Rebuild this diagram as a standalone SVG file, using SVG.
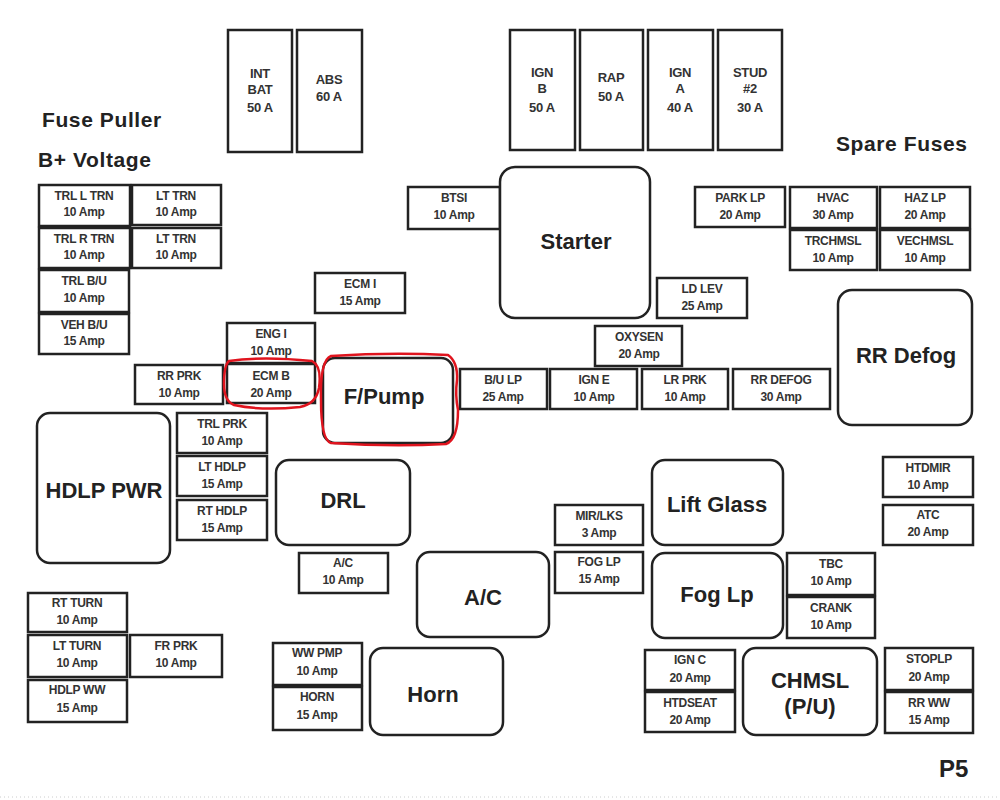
<svg xmlns="http://www.w3.org/2000/svg" width="1000" height="800" viewBox="0 0 1000 800">
<style>
  .box { fill: #ffffff; stroke: #222; stroke-width: 2.5; }
  .relay { fill: #ffffff; stroke: #222; stroke-width: 2.5; }
  .s { font-family: "Liberation Sans", Arial, sans-serif; font-size: 12px; font-weight: bold; fill: #333; text-anchor: middle; letter-spacing: -0.3px; }
  .m { font-family: "Liberation Sans", Arial, sans-serif; font-size: 13px; font-weight: bold; fill: #333; text-anchor: middle; letter-spacing: -0.3px; }
  .big { font-family: "Liberation Sans", Arial, sans-serif; font-size: 22px; font-weight: bold; fill: #222; text-anchor: middle; }
  .lab { font-family: "Liberation Sans", Arial, sans-serif; font-size: 21px; font-weight: bold; fill: #222; letter-spacing: 0.6px; }
  .red { fill: none; stroke: #e0141e; stroke-width: 2.5; stroke-linejoin: round; }
</style>
<rect x="0" y="0" width="1000" height="800" fill="#ffffff"/>

<!-- labels -->
<text class="lab" x="42" y="127">Fuse Puller</text>
<text class="lab" x="38" y="167">B+ Voltage</text>
<text class="lab" x="836" y="151">Spare Fuses</text>
<text class="lab" x="939" y="777" style="font-size:24px;letter-spacing:0">P5</text>

<!-- top maxi fuses -->
<g id="int-bat"><rect class="box" x="228" y="30" width="64" height="122"/><text class="m" x="260" y="78">INT</text><text class="m" x="260" y="94">BAT</text><text class="m" x="260" y="112">50 A</text></g>
<g id="abs"><rect class="box" x="297" y="30" width="65" height="122"/><text class="m" x="329" y="84">ABS</text><text class="m" x="329" y="101">60 A</text></g>
<g id="ign-b"><rect class="box" x="510" y="30" width="65" height="120"/><text class="m" x="542" y="77">IGN</text><text class="m" x="542" y="93">B</text><text class="m" x="542" y="112">50 A</text></g>
<g id="rap"><rect class="box" x="580" y="30" width="63" height="120"/><text class="m" x="611" y="82">RAP</text><text class="m" x="611" y="101">50 A</text></g>
<g id="ign-a"><rect class="box" x="648" y="30" width="65" height="120"/><text class="m" x="680" y="77">IGN</text><text class="m" x="680" y="93">A</text><text class="m" x="680" y="112">40 A</text></g>
<g id="stud2"><rect class="box" x="718" y="30" width="64" height="120"/><text class="m" x="750" y="77">STUD</text><text class="m" x="750" y="93">#2</text><text class="m" x="750" y="112">30 A</text></g>

<!-- left column -->
<g id="trl-l-trn"><rect class="box" x="39" y="185" width="91" height="41"/><text class="s" x="84" y="200">TRL L TRN</text><text class="s" x="84" y="216">10 Amp</text></g>
<g id="lt-trn-1"><rect class="box" x="132" y="185" width="89" height="40"/><text class="s" x="176" y="200">LT TRN</text><text class="s" x="176" y="216">10 Amp</text></g>
<g id="trl-r-trn"><rect class="box" x="39" y="228" width="91" height="40"/><text class="s" x="84" y="243">TRL R TRN</text><text class="s" x="84" y="259">10 Amp</text></g>
<g id="lt-trn-2"><rect class="box" x="132" y="228" width="89" height="40"/><text class="s" x="176" y="243">LT TRN</text><text class="s" x="176" y="259">10 Amp</text></g>
<g id="trl-bu"><rect class="box" x="39" y="270" width="90" height="42"/><text class="s" x="84" y="285">TRL B/U</text><text class="s" x="84" y="302">10 Amp</text></g>
<g id="veh-bu"><rect class="box" x="39" y="314" width="90" height="40"/><text class="s" x="84" y="329">VEH B/U</text><text class="s" x="84" y="345">15 Amp</text></g>

<!-- center upper -->
<g id="btsi"><rect class="box" x="408" y="187" width="92" height="42"/><text class="s" x="454" y="202">BTSI</text><text class="s" x="454" y="219">10 Amp</text></g>
<g id="starter"><rect class="relay" x="500" y="167" width="150" height="151" rx="15"/><text class="big" x="576" y="249">Starter</text></g>
<g id="ecm-i"><rect class="box" x="315" y="273" width="90" height="40"/><text class="s" x="360" y="288">ECM I</text><text class="s" x="360" y="305">15 Amp</text></g>
<g id="eng-i"><rect class="box" x="227" y="323" width="88" height="40"/><text class="s" x="271" y="338">ENG I</text><text class="s" x="271" y="355">10 Amp</text></g>
<g id="rr-prk"><rect class="box" x="135" y="365" width="88" height="39"/><text class="s" x="179" y="380">RR PRK</text><text class="s" x="179" y="397">10 Amp</text></g>
<g id="ecm-b"><rect class="box" x="227" y="364" width="88" height="39"/><text class="s" x="271" y="380">ECM B</text><text class="s" x="271" y="397">20 Amp</text></g>
<g id="f-pump"><rect class="relay" x="323" y="358" width="130" height="85" rx="12"/><text class="big" x="384" y="404">F/Pump</text></g>
<g id="ld-lev"><rect class="box" x="657" y="278" width="90" height="40"/><text class="s" x="702" y="293">LD LEV</text><text class="s" x="702" y="310">25 Amp</text></g>
<g id="oxysen"><rect class="box" x="595" y="326" width="87" height="40"/><text class="s" x="639" y="341">OXYSEN</text><text class="s" x="639" y="358">20 Amp</text></g>
<g id="bu-lp"><rect class="box" x="460" y="369" width="87" height="40"/><text class="s" x="503" y="384">B/U LP</text><text class="s" x="503" y="401">25 Amp</text></g>
<g id="ign-e"><rect class="box" x="550" y="369" width="87" height="40"/><text class="s" x="594" y="384">IGN E</text><text class="s" x="594" y="401">10 Amp</text></g>
<g id="lr-prk"><rect class="box" x="642" y="369" width="86" height="40"/><text class="s" x="685" y="384">LR PRK</text><text class="s" x="685" y="401">10 Amp</text></g>
<g id="rr-defog-f"><rect class="box" x="733" y="369" width="97" height="40"/><text class="s" x="781" y="384">RR DEFOG</text><text class="s" x="781" y="401">30 Amp</text></g>

<!-- right upper -->
<g id="park-lp"><rect class="box" x="695" y="187" width="90" height="40"/><text class="s" x="740" y="202">PARK LP</text><text class="s" x="740" y="219">20 Amp</text></g>
<g id="hvac"><rect class="box" x="790" y="187" width="87" height="41"/><text class="s" x="833" y="202">HVAC</text><text class="s" x="833" y="219">30 Amp</text></g>
<g id="haz-lp"><rect class="box" x="880" y="187" width="90" height="41"/><text class="s" x="925" y="202">HAZ LP</text><text class="s" x="925" y="219">20 Amp</text></g>
<g id="trchmsl"><rect class="box" x="790" y="230" width="87" height="40"/><text class="s" x="833" y="245">TRCHMSL</text><text class="s" x="833" y="262">10 Amp</text></g>
<g id="vechmsl"><rect class="box" x="880" y="230" width="90" height="40"/><text class="s" x="925" y="245">VECHMSL</text><text class="s" x="925" y="262">10 Amp</text></g>
<g id="rr-defog"><rect class="relay" x="838" y="290" width="134" height="135" rx="14"/><text class="big" x="906" y="363">RR Defog</text></g>

<!-- middle left -->
<g id="hdlp-pwr"><rect class="relay" x="37" y="413" width="133" height="150" rx="13"/><text class="big" x="104" y="498">HDLP PWR</text></g>
<g id="trl-prk"><rect class="box" x="177" y="413" width="90" height="40"/><text class="s" x="222" y="428">TRL PRK</text><text class="s" x="222" y="445">10 Amp</text></g>
<g id="lt-hdlp"><rect class="box" x="177" y="456" width="90" height="40"/><text class="s" x="222" y="471">LT HDLP</text><text class="s" x="222" y="488">15 Amp</text></g>
<g id="rt-hdlp"><rect class="box" x="177" y="500" width="90" height="40"/><text class="s" x="222" y="515">RT HDLP</text><text class="s" x="222" y="532">15 Amp</text></g>
<g id="drl"><rect class="relay" x="276" y="460" width="134" height="85" rx="13"/><text class="big" x="343" y="508">DRL</text></g>
<g id="ac-fuse"><rect class="box" x="299" y="553" width="89" height="40"/><text class="s" x="343" y="567">A/C</text><text class="s" x="343" y="584">10 Amp</text></g>

<!-- middle right -->
<g id="lift-glass"><rect class="relay" x="652" y="460" width="131" height="85" rx="13"/><text class="big" x="717" y="512">Lift Glass</text></g>
<g id="mir-lks"><rect class="box" x="555" y="505" width="88" height="40"/><text class="s" x="599" y="520">MIR/LKS</text><text class="s" x="599" y="537">3 Amp</text></g>
<g id="fog-lp-f"><rect class="box" x="555" y="552" width="88" height="41"/><text class="s" x="599" y="566">FOG LP</text><text class="s" x="599" y="583">15 Amp</text></g>
<g id="fog-lp"><rect class="relay" x="652" y="553" width="131" height="85" rx="13"/><text class="big" x="717" y="602">Fog Lp</text></g>
<g id="tbc"><rect class="box" x="787" y="553" width="88" height="42"/><text class="s" x="831" y="568">TBC</text><text class="s" x="831" y="585">10 Amp</text></g>
<g id="crank"><rect class="box" x="787" y="597" width="88" height="41"/><text class="s" x="831" y="612">CRANK</text><text class="s" x="831" y="629">10 Amp</text></g>
<g id="htdmir"><rect class="box" x="883" y="457" width="90" height="40"/><text class="s" x="928" y="472">HTDMIR</text><text class="s" x="928" y="489">10 Amp</text></g>
<g id="atc"><rect class="box" x="883" y="505" width="90" height="40"/><text class="s" x="928" y="519">ATC</text><text class="s" x="928" y="536">20 Amp</text></g>
<g id="ac-relay"><rect class="relay" x="417" y="552" width="132" height="85" rx="13"/><text class="big" x="483" y="605">A/C</text></g>

<!-- bottom -->
<g id="rt-turn"><rect class="box" x="28" y="593" width="99" height="39"/><text class="s" x="77" y="607">RT TURN</text><text class="s" x="77" y="624">10 Amp</text></g>
<g id="lt-turn"><rect class="box" x="28" y="635" width="99" height="42"/><text class="s" x="77" y="650">LT TURN</text><text class="s" x="77" y="667">10 Amp</text></g>
<g id="fr-prk"><rect class="box" x="130" y="635" width="92" height="42"/><text class="s" x="176" y="650">FR PRK</text><text class="s" x="176" y="667">10 Amp</text></g>
<g id="hdlp-ww"><rect class="box" x="28" y="680" width="99" height="42"/><text class="s" x="77" y="694">HDLP WW</text><text class="s" x="77" y="712">15 Amp</text></g>
<g id="ww-pmp"><rect class="box" x="273" y="643" width="89" height="42"/><text class="s" x="317" y="657">WW PMP</text><text class="s" x="317" y="675">10 Amp</text></g>
<g id="horn-f"><rect class="box" x="273" y="687" width="89" height="43"/><text class="s" x="317" y="701">HORN</text><text class="s" x="317" y="719">15 Amp</text></g>
<g id="horn"><rect class="relay" x="370" y="648" width="133" height="87" rx="13"/><text class="big" x="433" y="702">Horn</text></g>
<g id="ign-c"><rect class="box" x="645" y="650" width="90" height="40"/><text class="s" x="690" y="664">IGN C</text><text class="s" x="690" y="682">20 Amp</text></g>
<g id="htdseat"><rect class="box" x="645" y="692" width="90" height="40"/><text class="s" x="690" y="707">HTDSEAT</text><text class="s" x="690" y="724">20 Amp</text></g>
<g id="chmsl"><rect class="relay" x="743" y="648" width="134" height="87" rx="13"/><text class="big" x="810" y="688">CHMSL</text><text class="big" x="810" y="714">(P/U)</text></g>
<g id="stoplp"><rect class="box" x="885" y="648" width="88" height="42"/><text class="s" x="929" y="663">STOPLP</text><text class="s" x="929" y="681">20 Amp</text></g>
<g id="rr-ww"><rect class="box" x="885" y="692" width="88" height="41"/><text class="s" x="929" y="707">RR WW</text><text class="s" x="929" y="724">15 Amp</text></g>

<!-- red highlight marks -->
<g id="highlights">
  <path class="red" d="M 229 361 Q 262 356 312 361 Q 322 366 319 388 Q 316 404 300 407 Q 262 411 234 405 Q 224 401 224 384 Q 224 365 229 361 Z"/>
  <path class="red" d="M 331 356 Q 392 352 448 355 Q 458 362 457 380 Q 455 395 458 410 Q 458 440 446 444 Q 392 447 331 443 Q 321 440 321 400 Q 320 360 331 356 Z"/>
</g>

<g id="connectors"></g>

<line x1="0" y1="797" x2="1000" y2="797" stroke="#cccccc" stroke-width="1" stroke-dasharray="1,3"/>
</svg>
